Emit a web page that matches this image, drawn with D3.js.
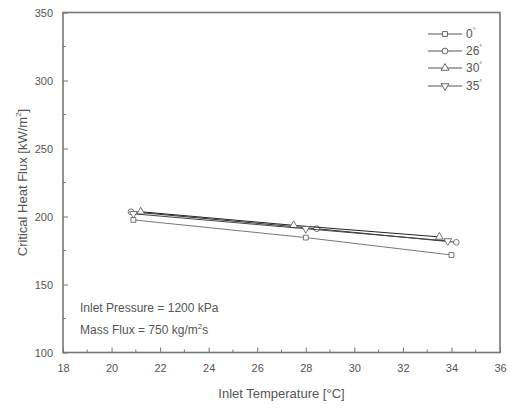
<!DOCTYPE html>
<html><head><meta charset="utf-8">
<script src="https://cdn.jsdelivr.net/npm/d3@7"></script>
<style>body{margin:0;background:#fff}svg{display:block}text{font-family:"Liberation Sans",Arial,sans-serif;fill:#555}</style>
</head><body><svg id="c" width="510" height="413"></svg>
<script>
const seriesNames = ["0°", "26°", "30°", "35°"];
const s0 = [[20.9,197.5],[28.0,184.5],[34.0,171.7]];
const s26 = [[20.8,203.5],[28.45,191],[34.2,181]];
const s30 = [[21.2,203.5],[27.5,193.5],[33.5,185]];
const s35 = [[20.9,202],[28.0,191],[33.85,182]];
const xTicks = [18,20,22,24,26,28,30,32,34,36];
const yTicks = [100,150,200,250,300,350];
const symbols = ["square","circle","triangleUp","triangleDown"];
const allSeries = [s0,s26,s30,s35];
const lineColors = ["#777","#333","#222","#444"];

const svg = d3.select("#c");
const L=63,R=500,T=12.5,B=352.5;
const x = d3.scaleLinear().domain([18,36]).range([L,R]);
const y = d3.scaleLinear().domain([100,350]).range([B,T]);
const axisColor="#777";

svg.append("rect").attr("x",L).attr("y",T).attr("width",R-L).attr("height",B-T)
  .attr("fill","none").attr("stroke",axisColor).attr("stroke-width",1.6);

const gx = svg.append("g").attr("transform",`translate(0,${B})`)
  .call(d3.axisBottom(x).tickValues(xTicks).tickSize(-5).tickPadding(12).tickFormat(d3.format("d")));
gx.select(".domain").remove();
gx.selectAll("line").attr("stroke",axisColor);
gx.selectAll("text").attr("font-size",11).style("fill","#555");
const xMinor = d3.range(19,36,2);
svg.append("g").selectAll("line").data(xMinor).join("line")
  .attr("x1",d=>x(d)).attr("x2",d=>x(d)).attr("y1",B).attr("y2",B-3).attr("stroke",axisColor);

const gy = svg.append("g").attr("transform",`translate(${L},0)`)
  .call(d3.axisLeft(y).tickValues(yTicks).tickSize(-5).tickPadding(10).tickFormat(d3.format("d")));
gy.select(".domain").remove();
gy.selectAll("line").attr("stroke",axisColor);
gy.selectAll("text").attr("font-size",11).style("fill","#555");
const yMinor = d3.range(125,350,50);
svg.append("g").selectAll("line").data(yMinor).join("line")
  .attr("x1",L).attr("x2",L+3).attr("y1",d=>y(d)).attr("y2",d=>y(d)).attr("stroke",axisColor);

svg.append("text").attr("x",(L+R)/2).attr("y",398).attr("text-anchor","middle").attr("font-size",13)
  .text("Inlet Temperature [°C]");
const yl = svg.append("text").attr("transform",`translate(27,${(T+B)/2}) rotate(-90)`)
  .attr("text-anchor","middle").attr("font-size",13);
yl.append("tspan").text("Critical Heat Flux [kW/m");
yl.append("tspan").attr("dy",-6).attr("font-size",8).text("2");
yl.append("tspan").attr("dy",6).text("]");

svg.append("text").attr("x",80).attr("y",312).attr("font-size",12).text("Inlet Pressure = 1200 kPa");
const mf = svg.append("text").attr("x",80).attr("y",334).attr("font-size",12);
mf.append("tspan").text("Mass Flux = 750 kg/m");
mf.append("tspan").attr("dy",-5).attr("font-size",8).text("2");
mf.append("tspan").attr("dy",5).text("s");

function sym(name){
  const size = 26;
  if(name==="square") return d3.symbol(d3.symbolSquare,size*0.9)();
  if(name==="circle") return d3.symbol(d3.symbolCircle,size)();
  return d3.symbol(d3.symbolTriangle,size)();
}
const line = d3.line().x(d=>x(d[0])).y(d=>y(d[1]));
allSeries.forEach((s,i)=>{
  svg.append("path").attr("d",line(s)).attr("fill","none").attr("stroke",lineColors[i]).attr("stroke-width",1);
  svg.append("g").selectAll("path").data(s).join("path")
    .attr("d",sym(symbols[i]))
    .attr("transform",d=>`translate(${x(d[0])},${y(d[1])})${symbols[i]==="triangleDown"?" rotate(180)":""}`)
    .attr("fill","#fff").attr("stroke","#666").attr("stroke-width",0.9);
});

const legY = [34,51,68,86];
const lg = svg.append("g");
seriesNames.forEach((n,i)=>{
  lg.append("line").attr("x1",428).attr("x2",462).attr("y1",legY[i]).attr("y2",legY[i]).attr("stroke","#555");
  lg.append("path").attr("d",sym(symbols[i]))
    .attr("transform",`translate(445,${legY[i]})${symbols[i]==="triangleDown"?" rotate(180)":""}`)
    .attr("fill","#fff").attr("stroke","#555").attr("stroke-width",0.9);
  const t = lg.append("text").attr("x",466).attr("y",legY[i]+4).attr("font-size",12);
  t.append("tspan").text(n.replace("°",""));
  t.append("tspan").attr("dy",-5).attr("font-size",7).text("°");
});
</script></body></html>
